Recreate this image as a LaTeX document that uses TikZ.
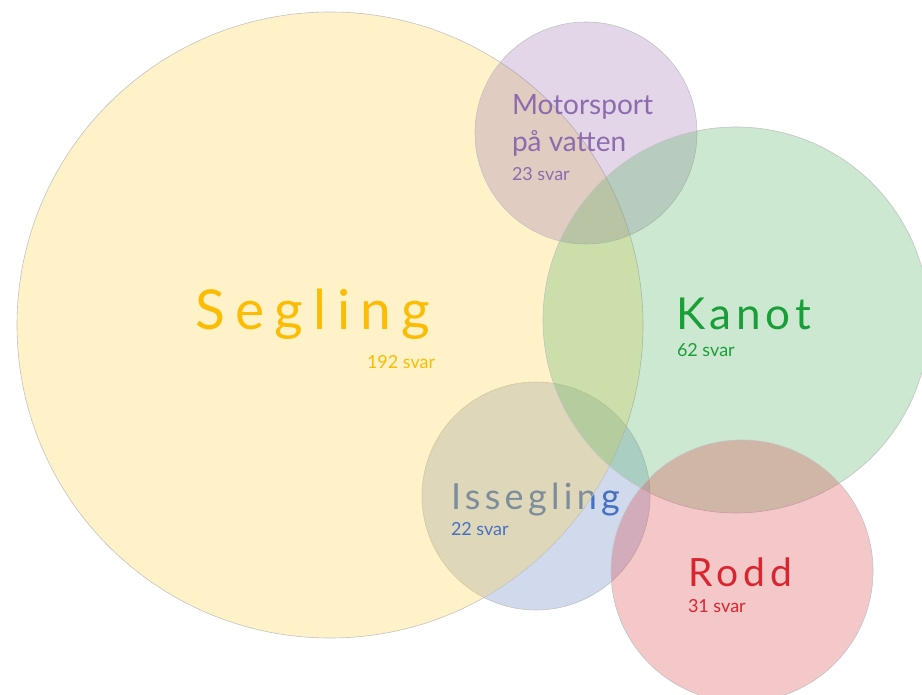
\documentclass[tikz,border=0pt]{standalone}
\usepackage{fontspec}
\setmainfont{Lato}
\definecolor{cseg}{RGB}{255,211,72}
\definecolor{cmot}{RGB}{158,118,178}
\definecolor{ckan}{RGB}{88,178,98}
\definecolor{ciss}{RGB}{98,132,192}
\definecolor{crod}{RGB}{218,68,75}
\definecolor{tseg}{RGB}{251,188,4}
\definecolor{tmot}{RGB}{142,107,174}
\definecolor{tkan}{RGB}{26,158,58}
\definecolor{tiss}{RGB}{70,112,192}
\definecolor{trod}{RGB}{217,38,46}
\tikzset{
  venn/.style={circle, inner sep=0pt, draw=black!24, line width=0.6pt, fill opacity=0.3},
  lbl/.style={anchor=base west, inner sep=0pt, outer sep=0pt},
  sub/.style={lbl, font=\fontsize{18}{22}\selectfont},
}
\begin{document}
\begin{tikzpicture}[x=1pt,y=-1pt]
\useasboundingbox (0,0) rectangle (922,695);
\node[venn, fill=ciss, minimum size=228pt] (iss) at (536,496) {};
\node[lbl, text=tiss, font=\fontsize{36}{40}\selectfont\addfontfeatures{LetterSpace=12}] (isst) at (451,509) {Issegling};
\node[venn, fill=cseg, minimum size=626pt] (seg) at (330,325) {};
\node[venn, fill=cmot, minimum size=222pt] (mot) at (586,133) {};
\node[venn, fill=ckan, minimum size=386pt] (kan) at (736,320) {};
\node[venn, fill=crod, minimum size=262pt] (rod) at (742,571) {};
\node[lbl, text=tseg, font=\fontsize{55}{60}\selectfont\addfontfeatures{LetterSpace=19}] (segt) at (195,330) {Segling};
\node[sub, text=tseg] (segs) at (367,368) {192 svar};
\node[lbl, text=tmot, font=\fontsize{28}{35}\selectfont] (mott) at (512,115) {Motorsport};
\node[lbl, text=tmot, font=\fontsize{28}{35}\selectfont] (mott2) at (512,152) {på vatten};
\node[sub, text=tmot] (mots) at (512,181) {23 svar};
\node[lbl, text=tkan, font=\fontsize{44}{50}\selectfont\addfontfeatures{LetterSpace=11}] (kant) at (676,330) {Kanot};
\node[sub, text=tkan] (kans) at (677,356) {62 svar};
\node[sub, text=tiss] (isss) at (451,535) {22 svar};
\node[lbl, text=trod, font=\fontsize{39}{44}\selectfont\addfontfeatures{LetterSpace=13}] (rodt) at (688,586) {Rodd};
\node[sub, text=trod] (rods) at (688,612) {31 svar};
\end{tikzpicture}
\end{document}
